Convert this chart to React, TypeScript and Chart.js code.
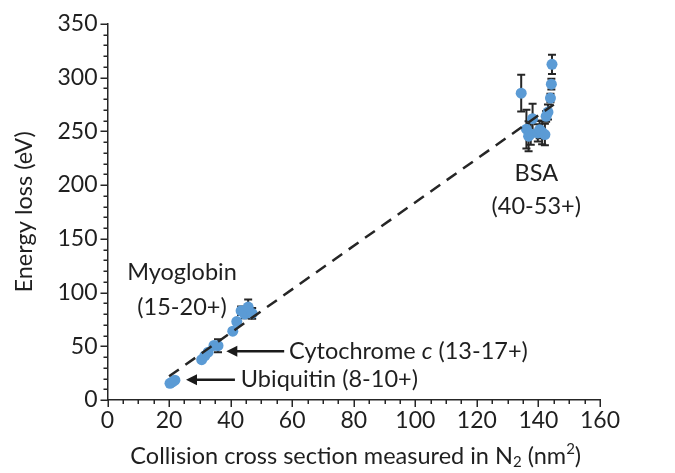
import React, { useEffect, useRef } from 'react';
import { Chart, registerables } from 'chart.js';

Chart.register(...registerables);

// ---- Data ----
const ubqX = [20.3, 21.1, 21.9];
const ubqY = [15.5, 16.8, 18.4];
const ubqErr = [1, 1, 1];

const cytX = [30.6, 31.6, 32.7, 34.6, 35.9];
const cytY = [37.5, 41, 44.5, 50.8, 50.5];
const cytErr = [1, 1, 1, 2, 6];

const myoX = [40.7, 42.0, 43.4, 44.6, 45.7, 47.0];
const myoY = [64, 73, 83, 80, 86.5, 80.5];
const myoErr = [2, 2, 4, 4, 7, 5];

const bsaX = [134.4, 136.1, 136.8, 137.5, 138.1, 139.8, 140.4, 141.2, 142.1, 142.5, 143.1, 143.9, 144.2, 144.4];
const bsaY = [285.5, 252, 245.4, 247.5, 261.7, 248.5, 251.5, 249, 246.9, 263.9, 267.9, 280.9, 293.8, 312.3];
const bsaErr = [17, 18, 14, 10, 14, 8, 8, 11, 10, 5, 7, 4, 5, 9];

const fitX = [20, 145];
const fitY = [22, 275];

const xTicks = [0, 20, 40, 60, 80, 100, 120, 140, 160];
const yTicks = [0, 50, 100, 150, 200, 250, 300, 350];

// annotation anchors in data coordinates
const labelMyo = { x: 24.2, y1: 118.8, y2: 86.5, l1: 'Myoglobin', l2: '(15-20+)' };
const labelBsa = { x: 139.3, y1: 211, y2: 180.5, l1: 'BSA', l2: '(40-53+)' };
const labelCyt = { x: 59.0, y: 45.3, tipX: 38.6, tailX: 57.4 };
const labelUbq = { x: 43.3, y: 18.8, tipX: 25.5, tailX: 41.4, text: 'Ubiquitin (8-10+)' };

const FONT = 'Lato, "Open Sans", sans-serif';
const FS = 23.5;
const INK = '#1f1f1f';
const BLUE = '#5B9BD5';

const pts = (xs: number[], ys: number[]) => xs.map((x, i) => ({ x, y: ys[i] }));

const extrasPlugin = {
  id: 'extras',
  beforeDatasetsDraw(chart: any) {
    const ctx = chart.ctx;
    const xs = chart.scales.x;
    const ys = chart.scales.y;
    ctx.save();
    ctx.strokeStyle = '#262626';
    ctx.lineWidth = 2;
    chart.data.datasets.forEach((ds: any) => {
      if (!ds.errors) return;
      ds.data.forEach((p: any, i: number) => {
        const e = ds.errors[i];
        const px = xs.getPixelForValue(p.x);
        const top = ys.getPixelForValue(p.y + e);
        const bot = ys.getPixelForValue(p.y - e);
        ctx.beginPath();
        ctx.moveTo(px, top);
        ctx.lineTo(px, bot);
        ctx.moveTo(px - 4, top);
        ctx.lineTo(px + 4, top);
        ctx.moveTo(px - 4, bot);
        ctx.lineTo(px + 4, bot);
        ctx.stroke();
      });
    });
    ctx.restore();
  },
  afterDraw(chart: any) {
    const ctx = chart.ctx;
    const xs = chart.scales.x;
    const ys = chart.scales.y;
    const area = chart.chartArea;
    ctx.save();
    // minor/major tick marks
    ctx.strokeStyle = '#262626';
    ctx.lineWidth = 1.5;
    ctx.beginPath();
    for (let v = xs.min; v <= xs.max + 0.01; v += 5) {
      const px = Math.round(xs.getPixelForValue(v)) + 0.25;
      const len = v % 20 === 0 ? 7 : 4;
      ctx.moveTo(px, area.bottom);
      ctx.lineTo(px, area.bottom + len);
    }
    for (let v = ys.min; v <= ys.max + 0.01; v += 10) {
      const py = Math.round(ys.getPixelForValue(v)) + 0.25;
      const len = v % 50 === 0 ? 7 : 4;
      ctx.moveTo(area.left - len, py);
      ctx.lineTo(area.left, py);
    }
    ctx.stroke();

    ctx.fillStyle = INK;
    ctx.font = `${FS}px ${FONT}`;
    ctx.textBaseline = 'middle';

    // y title
    ctx.save();
    ctx.translate(24, (area.top + area.bottom) / 2);
    ctx.rotate(-Math.PI / 2);
    ctx.textAlign = 'center';
    ctx.fillText('Energy loss (eV)', 0, 0);
    ctx.restore();

    // x title with sub/superscript
    const parts: [string, number, number][] = [
      ['Collision cross section measured in N', FS, 0],
      ['2', 15, 6],
      [' (nm', FS, 0],
      ['2', 15, -7],
      [')', FS, 0],
    ];
    let total = 0;
    parts.forEach(([t, s]) => {
      ctx.font = `${s}px ${FONT}`;
      total += ctx.measureText(t).width;
    });
    let cx = (area.left + area.right) / 2 + 2 - total / 2;
    const ty = 456;
    ctx.textAlign = 'left';
    parts.forEach(([t, s, dy]) => {
      ctx.font = `${s}px ${FONT}`;
      ctx.fillText(t, cx, ty + dy);
      cx += ctx.measureText(t).width;
    });

    // annotations
    ctx.font = `${FS}px ${FONT}`;
    ctx.textAlign = 'center';
    [labelMyo, labelBsa].forEach((L) => {
      const px = xs.getPixelForValue(L.x);
      ctx.fillText(L.l1, px, ys.getPixelForValue(L.y1));
      ctx.fillText(L.l2, px, ys.getPixelForValue(L.y2));
    });

    ctx.textAlign = 'left';
    // Cytochrome c
    let x0 = xs.getPixelForValue(labelCyt.x);
    const yc = ys.getPixelForValue(labelCyt.y);
    ctx.font = `${FS}px ${FONT}`;
    ctx.fillText('Cytochrome ', x0, yc);
    x0 += ctx.measureText('Cytochrome ').width;
    ctx.font = `italic ${FS}px ${FONT}`;
    ctx.fillText('c', x0, yc);
    x0 += ctx.measureText('c').width;
    ctx.font = `${FS}px ${FONT}`;
    ctx.fillText(' (13-17+)', x0, yc);

    // Ubiquitin
    const yu = ys.getPixelForValue(labelUbq.y);
    ctx.fillText(labelUbq.text, xs.getPixelForValue(labelUbq.x), yu);

    // arrows
    const arrow = (tail: number, tip: number, y: number) => {
      ctx.strokeStyle = '#1a1a1a';
      ctx.fillStyle = '#1a1a1a';
      ctx.lineWidth = 2.5;
      ctx.beginPath();
      ctx.moveTo(tail, y);
      ctx.lineTo(tip + 8, y);
      ctx.stroke();
      ctx.beginPath();
      ctx.moveTo(tip, y);
      ctx.lineTo(tip + 11, y - 5.5);
      ctx.lineTo(tip + 11, y + 5.5);
      ctx.closePath();
      ctx.fill();
    };
    arrow(xs.getPixelForValue(labelCyt.tailX), xs.getPixelForValue(labelCyt.tipX), yc);
    arrow(xs.getPixelForValue(labelUbq.tailX), xs.getPixelForValue(labelUbq.tipX), yu);

    ctx.restore();
  },
};

export default function App() {
  const ref = useRef<HTMLCanvasElement | null>(null);
  useEffect(() => {
    if (!ref.current) return;
    const pointDs = (data: any[], errors: number[]) => ({
      type: 'scatter' as const,
      data,
      errors,
      backgroundColor: BLUE,
      borderColor: BLUE,
      borderWidth: 0,
      pointRadius: 5.5,
      order: 1,
    });
    const chart = new Chart(ref.current, {
      type: 'scatter',
      data: {
        datasets: [
          {
            type: 'line',
            data: pts(fitX, fitY),
            borderColor: '#262626',
            borderWidth: 2.5,
            borderDash: [12, 8],
            pointRadius: 0,
            fill: false,
            order: 0,
          } as any,
          pointDs(pts(ubqX, ubqY), ubqErr),
          pointDs(pts(cytX, cytY), cytErr),
          pointDs(pts(myoX, myoY), myoErr),
          pointDs(pts(bsaX, bsaY), bsaErr),
        ],
      },
      options: {
        animation: false,
        responsive: true,
        maintainAspectRatio: false,
        layout: { padding: { top: 22, right: 75, left: 0, bottom: 0 } },
        plugins: { legend: { display: false }, tooltip: { enabled: false } },
        scales: {
          x: {
            type: 'linear',
            min: 0,
            max: 160,
            afterBuildTicks: (s: any) => {
              s.ticks = xTicks.map((v) => ({ value: v }));
            },
            afterFit: (s: any) => {
              s.height = 73;
            },
            grid: { display: false, drawTicks: false },
            border: { display: true, color: '#262626', width: 1.5 },
            ticks: { color: INK, font: { family: FONT, size: 23 }, padding: 7, maxRotation: 0 },
          },
          y: {
            type: 'linear',
            min: 0,
            max: 350,
            afterBuildTicks: (s: any) => {
              s.ticks = yTicks.map((v) => ({ value: v }));
            },
            afterFit: (s: any) => {
              s.width = 107.5;
            },
            grid: { display: false, drawTicks: false },
            border: { display: true, color: '#262626', width: 1.5 },
            ticks: { color: INK, font: { family: FONT, size: 23 }, padding: 10 },
          },
        },
      },
      plugins: [extrasPlugin],
    } as any);
    return () => chart.destroy();
  }, []);
  return (
    <div style={{ position: 'fixed', left: 0, top: 0, width: 675, height: 473, background: '#fff' }}>
      <canvas ref={ref} />
    </div>
  );
}
